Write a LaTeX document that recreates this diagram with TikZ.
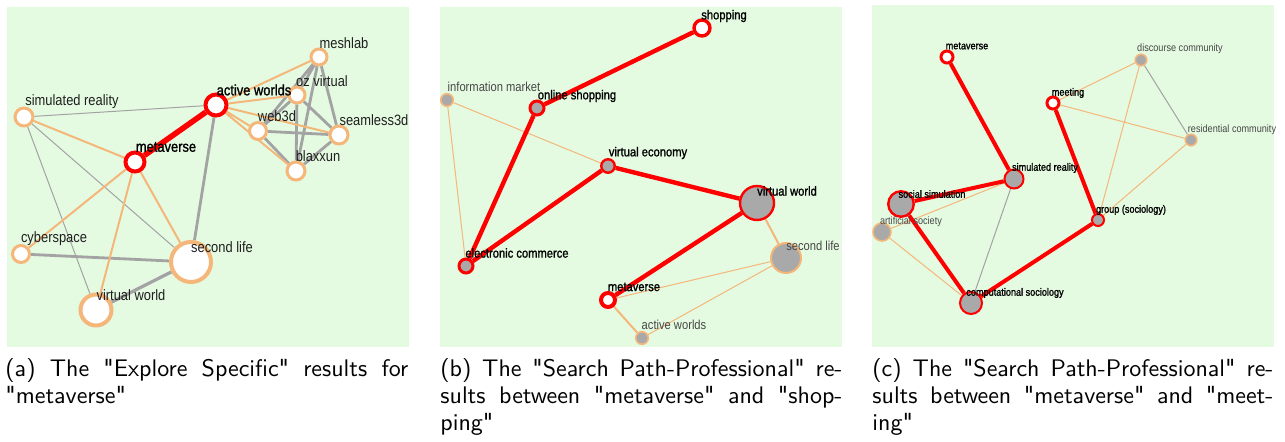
\documentclass[tikz,border=0pt]{standalone}
\usepackage{fontspec}
\usepackage{tikz}
\newfontfamily\netfont[FakeStretch=0.86]{Liberation Sans}
\newfontfamily\netfontb[FakeStretch=0.86,FakeBold=1.2]{Liberation Sans}
\font\capfont="[lmsans10-regular]" at 12pt
\definecolor{netgreen}{HTML}{E4FBE1}
\definecolor{netorange}{HTML}{F5B67A}
\definecolor{netgray}{HTML}{A9A9A9}
\definecolor{edgegray}{HTML}{A3A3A3}
\definecolor{netred}{HTML}{FF0000}
\pgfdeclarelayer{panelbg}
\pgfdeclarelayer{edgelayer}
\pgfsetlayers{panelbg,edgelayer,main}
\tikzstyle{panel}=[fill=netgreen]
\tikzstyle{term}=[circle,draw=netorange,fill=white,line width=1.5pt,inner sep=0pt]
\tikzstyle{hit}=[circle,draw=netred,fill=white,line width=2pt,inner sep=0pt]
\tikzstyle{gterm}=[circle,draw=netorange,fill=netgray,line width=.8pt,inner sep=0pt]
\tikzstyle{ghit}=[circle,draw=netred,fill=netgray,line width=1.5pt,inner sep=0pt]
\tikzstyle{word}=[inner sep=0pt,text=black!72]
\tikzstyle{pathword}=[inner sep=0pt,text=black,execute at begin node=\netfontb]
\tikzstyle{redge}=[netred,line width=2.2pt]
\tikzstyle{oedge}=[netorange,line width=1pt]
\tikzstyle{othin}=[netorange,line width=.5pt]
\tikzstyle{gedge}=[edgegray,line width=1.4pt]
\tikzstyle{gthin}=[edgegray,line width=.5pt]
\tikzstyle{subcap}=[font=\capfont,inner sep=0pt,anchor=base west]

\begin{document}
\begin{tikzpicture}[x=.5pt,y=-.5pt]
	\useasboundingbox (0,0) rectangle (1285,442);
	\begin{pgfonlayer}{panelbg}
		\fill[panel] (7,7) rectangle (409,347);
		\fill[panel] (440,7) rectangle (842,347);
		\fill[panel] (872,5) rectangle (1274,347);
	\end{pgfonlayer}
	% (a) explore specific
	\begin{scope}[font=\netfont\fontsize{7.5}{8}\selectfont,word/.append style={text=black!88}]
		\node[term,minimum size=8pt] (aMesh) at (319,57) {};
		\node[term,minimum size=8pt] (aOz) at (297,95) {};
		\node[hit,minimum size=10.5pt] (aAW) at (216,105) {};
		\node[term,minimum size=9pt] (aSim) at (24,117) {};
		\node[term,minimum size=8.5pt] (aWeb) at (258,131) {};
		\node[term,minimum size=9pt] (aSeam) at (339,135) {};
		\node[hit,minimum size=9.5pt] (aMeta) at (135,162) {};
		\node[term,minimum size=9pt] (aBlax) at (296,171) {};
		\node[term,minimum size=8.5pt] (aCyber) at (21,254) {};
		\node[term,line width=2pt,minimum size=20pt] (aSL) at (191,262) {};
		\node[term,line width=2pt,minimum size=15.5pt] (aVW) at (96,310) {};
		\node[word] (aMeshL) at (344,43) {meshlab};
		\node[word] (aOzL) at (322,81) {oz virtual};
		\node[pathword] (aAWL) at (254,90) {active worlds};
		\node[word] (aSimL) at (72,102) {simulated reality};
		\node[word] (aWebL) at (277,116) {web3d};
		\node[word] (aSeamL) at (374,120) {seamless3d};
		\node[pathword] (aMetaL) at (166,147) {metaverse};
		\node[word] (aBlaxL) at (318,156) {blaxxun};
		\node[word] (aCyberL) at (54,239) {cyberspace};
		\node[word] (aSLL) at (222,247) {second life};
		\node[word] (aVWL) at (131,295) {virtual world};
	\end{scope}
	\begin{pgfonlayer}{edgelayer}
		\draw[gedge] (aMesh) -- (aOz) (aMesh) -- (aWeb) (aMesh) -- (aSeam) (aMesh) -- (aBlax);
		\draw[gedge] (aOz) -- (aWeb) (aOz) -- (aSeam) (aOz) -- (aBlax);
		\draw[gedge] (aWeb) -- (aSeam) (aWeb) -- (aBlax) (aSeam) -- (aBlax);
		\draw[gedge] (aAW) -- (aSL) (aCyber) -- (aSL);
		\draw[edgegray,line width=1.6pt] (aSL) -- (aVW);
		\draw[gthin] (aSim) -- (aAW) (aSim) -- (aSL) (aSim) -- (aVW);
		\draw[oedge] (aAW) -- (aMesh) (aAW) -- (aOz) (aAW) -- (aWeb) (aAW) -- (aSeam) (aAW) -- (aBlax);
		\draw[oedge] (aSim) -- (aMeta) (aMeta) -- (aCyber) (aMeta) -- (aVW) (aMeta) -- (aSL);
		\draw[netred,line width=2.8pt] (aMeta) -- (aAW);
	\end{pgfonlayer}
	% (b) search path shopping
	\begin{scope}[font=\netfont\fontsize{6.5}{7}\selectfont]
		\node[hit,line width=1.7pt,minimum size=8pt] (bShop) at (702,28) {};
		\node[gterm,minimum size=6.25pt] (bInfo) at (447,100) {};
		\node[ghit,minimum size=7pt] (bOnline) at (537,108) {};
		\node[ghit,line width=1.2pt,minimum size=6.75pt] (bEcon) at (608,166) {};
		\node[ghit,line width=1.2pt,minimum size=17pt] (bVW) at (757,203) {};
		\node[gterm,line width=1pt,minimum size=15pt] (bSL) at (786,258) {};
		\node[ghit,minimum size=7pt] (bEC) at (466,266) {};
		\node[hit,minimum size=7pt] (bMeta) at (608,300) {};
		\node[gterm,minimum size=6.25pt] (bAW) at (642,338) {};
		\node[pathword] (bShopL) at (724,16) {shopping};
		\node[word] (bInfoL) at (494,87) {information market};
		\node[pathword] (bOnlineL) at (577,96) {online shopping};
		\node[pathword] (bEconL) at (648,153) {virtual economy};
		\node[pathword] (bVWL) at (787,191) {virtual world};
		\node[word] (bSLL) at (813,246) {second life};
		\node[pathword] (bECL) at (517,253) {electronic commerce};
		\node[pathword] (bMetaL) at (634,287) {metaverse};
		\node[word] (bAWL) at (674,325) {active worlds};
	\end{scope}
	\begin{pgfonlayer}{edgelayer}
		\draw[othin] (bInfo) -- (bEcon) (bInfo) -- (bEC) (bSL) -- (bMeta) (bSL) -- (bAW);
		\draw[oedge] (bVW) -- (bSL) (bMeta) -- (bAW);
		\draw[redge] (bShop) -- (bOnline) -- (bEC) -- (bEcon) -- (bVW) -- (bMeta);
	\end{pgfonlayer}
	% (c) search path meeting
	\begin{scope}[font=\netfont\fontsize{5.3}{6}\selectfont]
		\node[hit,line width=1.5pt,minimum size=6pt] (cMeta) at (947,57) {};
		\node[gterm,minimum size=5.75pt] (cDisc) at (1141,60) {};
		\node[hit,line width=1.5pt,minimum size=6pt] (cMeet) at (1053,103) {};
		\node[gterm,minimum size=5.75pt] (cRes) at (1191,140) {};
		\node[ghit,line width=1pt,minimum size=9.5pt] (cSim) at (1014,179) {};
		\node[gterm,minimum size=9pt] (cArt) at (882,232) {};
		\node[ghit,line width=1.2pt,minimum size=12.75pt] (cSoc) at (901,204) {};
		\node[ghit,line width=1pt,minimum size=6pt] (cGroup) at (1098,220) {};
		\node[ghit,line width=1pt,minimum size=11pt] (cComp) at (971,303) {};
		\node[pathword] (cMetaL) at (967,46) {metaverse};
		\node[word] (cDiscL) at (1180,49) {discourse community};
		\node[pathword] (cMeetL) at (1068,93) {meeting};
		\node[word] (cResL) at (1232,130) {residential community};
		\node[pathword] (cSimL) at (1045,168) {simulated reality};
		\node[pathword] (cSocL) at (932,194) {social simulation};
		\node[word] (cArtL) at (911,222) {artificial society};
		\node[pathword] (cGroupL) at (1131,210) {group (sociology)};
		\node[pathword] (cCompL) at (1015,293) {computational sociology};
	\end{scope}
	\begin{pgfonlayer}{edgelayer}
		\draw[othin] (cMeet) -- (cDisc) (cMeet) -- (cRes) (cDisc) -- (cGroup) (cRes) -- (cGroup);
		\draw[othin] (cSim) -- (cArt) (cArt) -- (cComp);
		\draw[gthin] (cDisc) -- (cRes) (cSim) -- (cComp);
		\draw[netred,line width=2pt] (cMeta) -- (cSim) -- (cSoc) -- (cComp) -- (cGroup) -- (cMeet);
	\end{pgfonlayer}
	% captions
	\node[subcap] (capA1) at (5,377) {\makebox[201.5pt][s]{(a) The "Explore Specific" results for}};
	\node[subcap] (capA2) at (5,404) {"metaverse"};
	\node[subcap] (capB1) at (440,377) {\makebox[201pt][s]{(b) The "Search Path-Professional" re-}};
	\node[subcap] (capB2) at (440,404) {\makebox[201pt][s]{sults between "metaverse" and "shop-}};
	\node[subcap] (capB3) at (440,431) {ping"};
	\node[subcap] (capC1) at (872,377) {\makebox[200.5pt][s]{(c) The "Search Path-Professional" re-}};
	\node[subcap] (capC2) at (872,404) {\makebox[200.5pt][s]{sults between "metaverse" and "meet-}};
	\node[subcap] (capC3) at (872,431) {ing"};
\end{tikzpicture}
\end{document}
